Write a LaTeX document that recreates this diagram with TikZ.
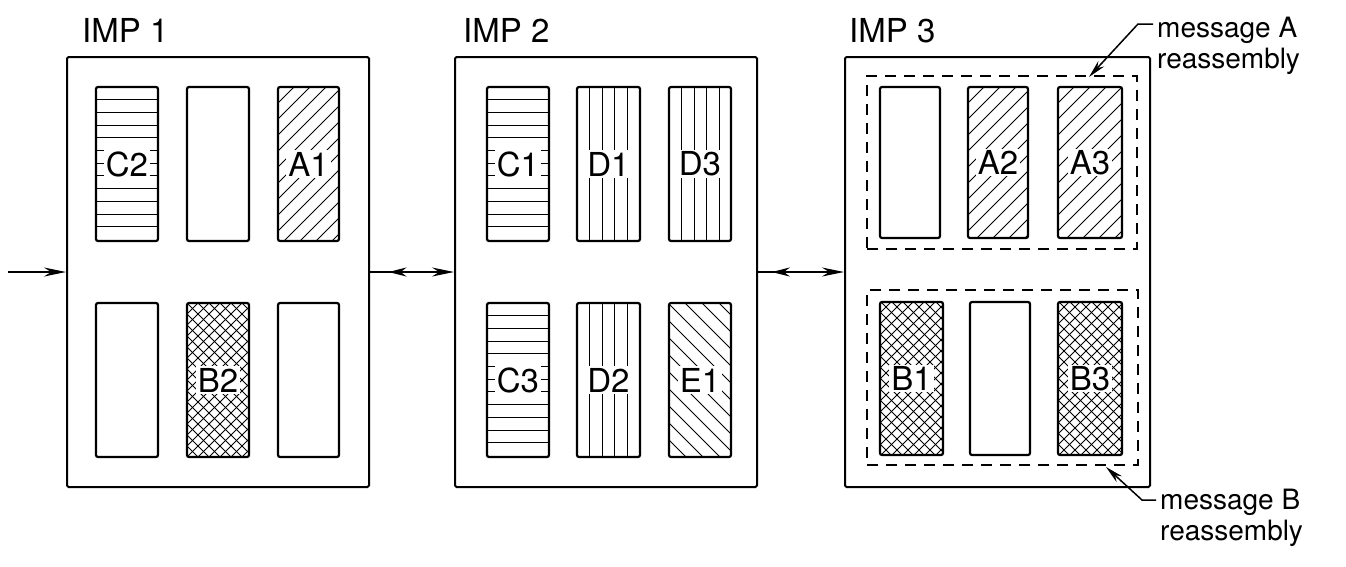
\documentclass[tikz,border=0pt]{standalone}
\usepackage{fontspec}
\setmainfont{TeX Gyre Heros}
\usetikzlibrary{arrows.meta,decorations.markings}
\newcommand{\hatchHor}[4]{\begin{scope}\clip (#1,#2) rectangle (#3,#4);
  \foreach \k in {1,...,11}{\draw[hatch] (#1,{#2+\k*12.7}) -- (#3,{#2+\k*12.7});}\end{scope}}
\newcommand{\hatchVer}[4]{\begin{scope}\clip (#1,#2) rectangle (#3,#4);
  \foreach \k in {1,...,4}{\draw[hatch] ({#1+\k*12.5},#2) -- ({#1+\k*12.5},#4);}\end{scope}}
\newcommand{\hatchNE}[5]{\begin{scope}\clip (#1,#2) rectangle (#3,#4);
  \pgfmathsetmacro{\hatchh}{#4-#2}
  \foreach \k in {0,...,26}{\draw[hatch] ({#1-\hatchh+\k*#5},#4) -- ++(\hatchh,-\hatchh);}\end{scope}}
\newcommand{\hatchNW}[5]{\begin{scope}\clip (#1,#2) rectangle (#3,#4);
  \pgfmathsetmacro{\hatchh}{#4-#2}
  \foreach \k in {0,...,26}{\draw[hatch] ({#1-\hatchh+\k*#5},#2) -- ++(\hatchh,\hatchh);}\end{scope}}
\newcommand{\slotrect}[4]{\draw[slotline] (#1,#2) rectangle (#3,#4);}
\begin{document}
\begin{tikzpicture}[x=1pt,y=-1pt,
  impbox/.style={draw, line width=2pt, rounded corners=1.5pt, minimum height=430pt, inner sep=0pt},
  slotline/.style={draw, line width=2.2pt, rounded corners=2pt},
  hatch/.style={line width=1pt},
  lab/.style={fill=white, inner xsep=2pt, inner ysep=1.5pt, font=\fontsize{33}{35}\selectfont},
  title/.style={anchor=base west, inner sep=0pt, font=\fontsize{33}{35}\selectfont},
  msg/.style={anchor=base west, align=left, inner sep=0pt, font=\fontsize{28}{31}\selectfont},
  dashbox/.style={draw, line width=2pt, dash pattern=on 11pt off 8pt, inner sep=0pt},
  conn/.style={line width=1.8pt, -{Stealth[length=22pt,width=9pt]}},
  backmark/.style={postaction={decorate, decoration={markings, mark=at position #1 with {\arrowreversed{Stealth[length=18pt,width=9pt]}}}}},
  leader/.style={line width=1.5pt, -{Stealth[length=18pt,width=8pt]}}
]
\useasboundingbox (0,0) rectangle (1346,566);

% IMP boxes
\node[impbox, minimum width=302pt] (imp1) at (218,272) {};
\node[impbox, minimum width=302pt] (imp2) at (606,272) {};
\node[impbox, minimum width=305pt] (imp3) at (997.5,272) {};

\node[title] (t1) at (82,42) {IMP 1};
\node[title] (t2) at (463,42) {IMP 2};
\node[title] (t3) at (849,42) {IMP 3};

% IMP 1 slots
\hatchHor{96}{87}{158}{241}
\slotrect{96}{87}{158}{241}
\slotrect{187}{87}{249}{241}
\hatchNE{278}{87}{339}{241}{16}
\slotrect{278}{87}{339}{241}
\slotrect{96}{303}{158}{457}
\hatchNE{187}{303}{249}{457}{11}
\hatchNW{187}{303}{249}{457}{11}
\slotrect{187}{303}{249}{457}
\slotrect{278}{303}{339}{457}
\node[lab] (lC2) at (127,164) {C2};
\node[lab] (lA1) at (308.5,164) {A1};
\node[lab] (lB2) at (218,380) {B2};

% IMP 2 slots
\hatchHor{487}{87}{549}{241}
\slotrect{487}{87}{549}{241}
\hatchVer{577}{87}{640}{241}
\slotrect{577}{87}{640}{241}
\hatchVer{669}{87}{731}{241}
\slotrect{669}{87}{731}{241}
\hatchHor{487}{303}{549}{457}
\slotrect{487}{303}{549}{457}
\hatchVer{577}{303}{640}{457}
\slotrect{577}{303}{640}{457}
\hatchNW{669}{303}{731}{457}{17}
\slotrect{669}{303}{731}{457}
\node[lab] (lC1) at (518,164) {C1};
\node[lab] (lD1) at (608.5,164) {D1};
\node[lab] (lD3) at (700,164) {D3};
\node[lab] (lC3) at (518,380) {C3};
\node[lab] (lD2) at (608.5,380) {D2};
\node[lab] (lE1) at (700,380) {E1};

% IMP 3 slots
\node[dashbox, minimum width=270pt, minimum height=173pt] (grpA) at (1002,162.5) {};
\node[dashbox, minimum width=271pt, minimum height=175pt] (grpB) at (1002.5,377.5) {};
\slotrect{880}{87}{940}{238}
\hatchNE{968}{87}{1028}{238}{16}
\slotrect{968}{87}{1028}{238}
\hatchNE{1058}{87}{1122}{238}{16}
\slotrect{1058}{87}{1122}{238}
\hatchNE{880}{302}{943}{455}{11}
\hatchNW{880}{302}{943}{455}{11}
\slotrect{880}{302}{943}{455}
\slotrect{970}{302}{1030}{455}
\hatchNE{1058}{302}{1122}{455}{11}
\hatchNW{1058}{302}{1122}{455}{11}
\slotrect{1058}{302}{1122}{455}
\node[lab] (lA2) at (998,162.5) {A2};
\node[lab] (lA3) at (1090,162.5) {A3};
\node[lab] (lB1) at (911.5,378.5) {B1};
\node[lab] (lB3) at (1090,378.5) {B3};

% connectors
\coordinate (in) at (8,272);
\draw[conn] (in) -- (imp1.west);
\draw[conn, backmark=0.22] (imp1.east) -- (imp2.west);
\draw[conn, backmark=0.16] (imp2.east) -- (imp3.west);

% message labels (base anchor is the last line's baseline)
\node[msg] (msgA) at (1157,68) {message A\\reassembly};
\node[msg] (msgB) at (1160,540) {message B\\reassembly};
\coordinate (tipA) at (1089,77);
\coordinate (elbA) at (1138,24);
\coordinate (endA) at (1153,24);
\coordinate (tipB) at (1106,467);
\coordinate (elbB) at (1142,500);
\coordinate (endB) at (1156,500);
\draw[leader] (endA) -- (elbA) -- (tipA);
\draw[leader] (endB) -- (elbB) -- (tipB);
\end{tikzpicture}
\end{document}
